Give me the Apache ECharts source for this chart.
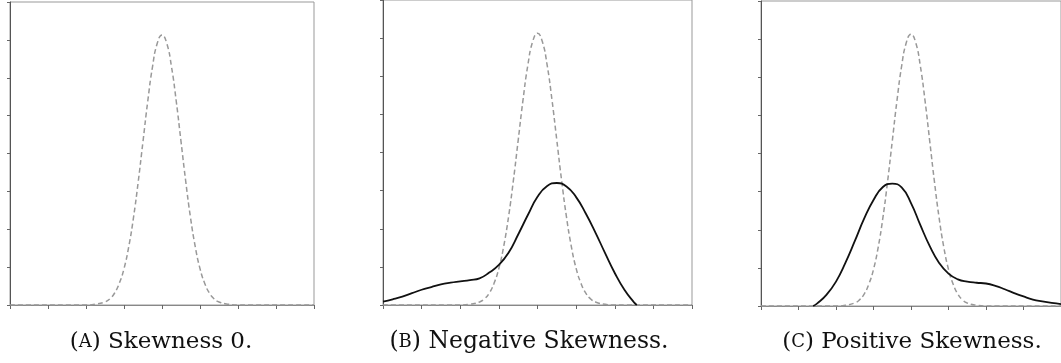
<!DOCTYPE html>
<html>
<head>
<meta charset="utf-8">
<script src="https://cdn.jsdelivr.net/npm/echarts@6/dist/echarts.min.js"></script>
<style>
html,body{margin:0;padding:0;background:#fff;}
#chart{width:1061px;height:363px;}
</style>
</head>
<body>
<div id="chart"></div>
<script>
// Reference normal curve (dashed)
var normalX = [0, 1.75, 2.0, 2.25, 2.5, 2.625, 2.75, 2.875, 3.0, 3.125, 3.25, 3.375, 3.5, 3.625, 3.75, 3.875, 4.0, 4.125, 4.25, 4.375, 4.5, 4.625, 4.75, 4.875, 5.0, 5.125, 5.25, 5.375, 5.5, 5.75, 6.0, 6.25, 8];
var normalY = [0, 0, 0, 0.02, 0.08, 0.16, 0.31, 0.57, 0.96, 1.54, 2.31, 3.26, 4.32, 5.38, 6.29, 6.91, 7.13, 6.91, 6.29, 5.38, 4.32, 3.26, 2.31, 1.54, 0.96, 0.57, 0.31, 0.16, 0.08, 0.02, 0, 0, 0];

// Negative skew curve (panel B)
var negX = [0, 0.25, 0.5, 0.75, 1.0, 1.25, 1.5, 1.75, 2.0, 2.25, 2.5, 2.75, 3.0, 3.25, 3.5, 3.75, 4.0, 4.25, 4.5, 4.75, 5.0, 5.25, 5.5, 5.75, 6.0, 6.25, 6.5, 6.57];
var negY = [0.09, 0.15, 0.22, 0.31, 0.40, 0.47, 0.54, 0.585, 0.62, 0.655, 0.70, 0.85, 1.05, 1.37, 1.85, 2.36, 2.84, 3.12, 3.20, 3.11, 2.83, 2.40, 1.90, 1.36, 0.84, 0.40, 0.07, 0];

// Positive skew curve (panel C)
var posX = [1.39, 1.5, 1.75, 2.0, 2.25, 2.5, 2.75, 3.0, 3.25, 3.5, 3.75, 4.0, 4.25, 4.5, 4.75, 5.0, 5.25, 5.5, 5.75, 6.0, 6.25, 6.5, 6.75, 7.0, 7.25, 7.5, 7.75, 8.0];
var posY = [0, 0.07, 0.30, 0.64, 1.13, 1.70, 2.29, 2.78, 3.12, 3.21, 3.11, 2.70, 2.12, 1.57, 1.13, 0.85, 0.70, 0.64, 0.61, 0.59, 0.53, 0.44, 0.34, 0.25, 0.17, 0.12, 0.08, 0.05];

var captions = [
  {label: 'A', text: ' Skewness 0.'},
  {label: 'B', text: ' Negative Skewness.'},
  {label: 'C', text: ' Positive Skewness.'}
];

function pairs(xs, ys) { return xs.map(function (x, i) { return [x, ys[i]]; }); }

var grids = [
  {left: 10, top: 2, width: 304, height: 303},
  {left: 383, top: -3, width: 309, height: 308},
  {left: 761, top: 1, width: 306, height: 305}
];
var captionCenters = [161, 529, 912];
var captionSizes = [23, 23.5, 23];

var xAxes = [], yAxes = [], series = [], graphics = [];
grids.forEach(function (g, i) {
  g.show = true; g.borderColor = '#999'; g.borderWidth = 1; g.containLabel = false;
  xAxes.push({
    type: 'value', gridIndex: i, min: 0, max: 8, interval: 1,
    axisLine: {show: true, onZero: false, lineStyle: {color: '#888', width: 1}},
    axisTick: {show: true, inside: false, length: 4, lineStyle: {color: '#666'}},
    axisLabel: {show: false}, splitLine: {show: false}
  });
  yAxes.push({
    type: 'value', gridIndex: i, min: 0, max: 8, interval: 1,
    axisLine: {show: true, lineStyle: {color: '#555', width: 1}},
    axisTick: {show: true, inside: false, length: 3, lineStyle: {color: '#666'}},
    axisLabel: {show: false}, splitLine: {show: false}
  });
  series.push({
    type: 'line', xAxisIndex: i, yAxisIndex: i, data: pairs(normalX, normalY),
    smooth: true, showSymbol: false, symbol: 'none', z: 2,
    lineStyle: {color: '#999', width: 1.5, type: [5, 3]}
  });
  graphics.push({
    type: 'text', x: captionCenters[i], y: 342,
    style: {
      text: '{n|(}{sc|' + captions[i].label + '}{n|)' + captions[i].text + '}',
      align: 'center', verticalAlign: 'middle',
      rich: {
        n: {fontFamily: 'DejaVu Serif', fontSize: captionSizes[i], fill: '#111'},
        sc: {fontFamily: 'DejaVu Serif', fontSize: 18, fill: '#111'}
      }
    }
  });
});
series.push({
  type: 'line', xAxisIndex: 1, yAxisIndex: 1, data: pairs(negX, negY),
  smooth: true, showSymbol: false, symbol: 'none', z: 3,
  lineStyle: {color: '#111', width: 1.8}
});
series.push({
  type: 'line', xAxisIndex: 2, yAxisIndex: 2, data: pairs(posX, posY),
  smooth: true, showSymbol: false, symbol: 'none', z: 3,
  lineStyle: {color: '#111', width: 1.8}
});

var chart = echarts.init(document.getElementById('chart'), null, {renderer: 'canvas'});
chart.setOption({
  animation: false,
  backgroundColor: '#fff',
  grid: grids,
  xAxis: xAxes,
  yAxis: yAxes,
  series: series,
  graphic: graphics
});
</script>
</body>
</html>
